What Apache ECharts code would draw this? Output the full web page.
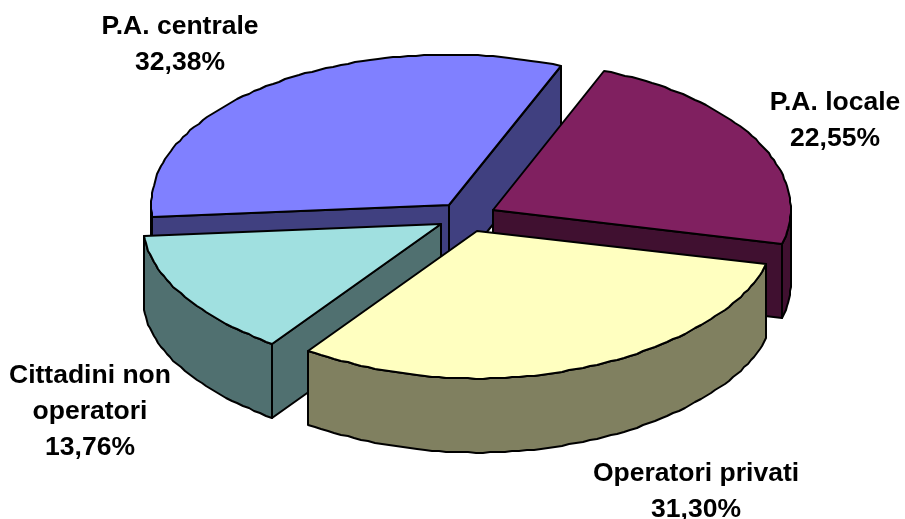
<!DOCTYPE html>
<html>
<head>
<meta charset="utf-8">
<title>Pie</title>
<style>
  html, body { margin: 0; padding: 0; background: #fff; }
  #main { width: 905px; height: 519px; }
</style>
<script src="https://cdn.jsdelivr.net/npm/echarts@6/dist/echarts.min.js"></script>
</head>
<body>
<div id="main"></div>
<script>
const categories = ['P.A. centrale', 'P.A. locale', 'Operatori privati', 'Cittadini non\noperatori']
const values = [32.38, 22.55, 31.30, 13.76]
const topColors = ['#8080ff', '#802060', '#ffffc0', '#a0e0e0']
const sideColors = ['#404080', '#401030', '#808060', '#507070']

// layout of the 3d pie, excel style
const center = [466.6, 216.7]
const rx = 298
const ryBack = 150
const ryFront = 148
const depth = 74
const explode = 0.1
const squeeze = 0.035
const firstAngle = 265.4
const drawRank = [0, 1, 3, 2]
const labelPos = [[180, 44.5], [835, 120.5], [696, 492], [90, 411.5]]
const fontSize = 26.5
const lineH = 36

const total = values.reduce((a, b) => a + b, 0)
const rad = d => d * Math.PI / 180

function renderSlice(params, api) {
  const i = params.dataIndex
  const v = api.value(0)
  let before = 0
  for (let k = 0; k < i; k++) before += values[k]
  const t0 = firstAngle + before / total * 360
  const t1 = t0 + v / total * 360
  const mid = rad((t0 + t1) / 2)
  const ax = center[0] + explode * 295 * Math.sin(mid)
  const ay = center[1] - explode * ryFront * Math.cos(mid)
  // rounded points give the stepped rim of the original
  const at = t => {
    const c = Math.cos(rad(t))
    const dy = -(c > 0 ? ryBack : ryFront) * c
    const f = dy > 0 ? 1 - squeeze * Math.pow(dy / 120, 2) : 1
    return [Math.round(ax + rx * f * Math.sin(rad(t))), Math.round(ay + dy)]
  }
  const down = p => [p[0], p[1] + depth]
  const apex = [Math.round(ax), Math.round(ay)]

  const rim = []
  const n = Math.ceil((t1 - t0) / 1.5)
  for (let k = 0; k <= n; k++) rim.push(t0 + (t1 - t0) * k / n)
  const front = rim.filter(t => Math.cos(rad(t)) <= 0).map(at)

  const base = drawRank[i] * 10
  const style = fill => ({ fill: fill, stroke: '#000', lineWidth: 2, lineJoin: 'round' })
  const poly = (points, fill, z2) => ({ type: 'polygon', z2: z2, shape: { points: points }, style: style(fill) })
  const children = []

  if (front.length > 1) {
    const lower = front.map(down).reverse()
    children.push(poly(front.concat(lower), sideColors[i], base + 1))
  }
  if (Math.sin(rad(t0)) < 0) {
    const c = at(t0)
    children.push(poly([apex, c, down(c), down(apex)], sideColors[i], base + 2))
  }
  if (Math.sin(rad(t1)) > 0) {
    const c = at(t1)
    children.push(poly([apex, c, down(c), down(apex)], sideColors[i], base + 2))
  }
  children.push(poly([apex].concat(rim.map(at)), topColors[i], base + 3))

  children.push({
    type: 'text',
    z2: 100,
    style: {
      x: labelPos[i][0],
      y: labelPos[i][1],
      text: categories[i] + '\n' + v.toFixed(2).replace('.', ',') + '%',
      fill: '#000',
      align: 'center',
      verticalAlign: 'middle',
      font: 'bold ' + fontSize + 'px "Liberation Sans", Arial, sans-serif',
      lineHeight: lineH
    }
  })
  return { type: 'group', children: children }
}

const myChart = echarts.init(document.getElementById('main'))
myChart.setOption({
  animation: false,
  backgroundColor: '#fff',
  series: [
    {
      type: 'custom',
      coordinateSystem: 'none',
      silent: true,
      renderItem: renderSlice,
      data: values.map(v => [v])
    }
  ]
})
</script>
</body>
</html>
